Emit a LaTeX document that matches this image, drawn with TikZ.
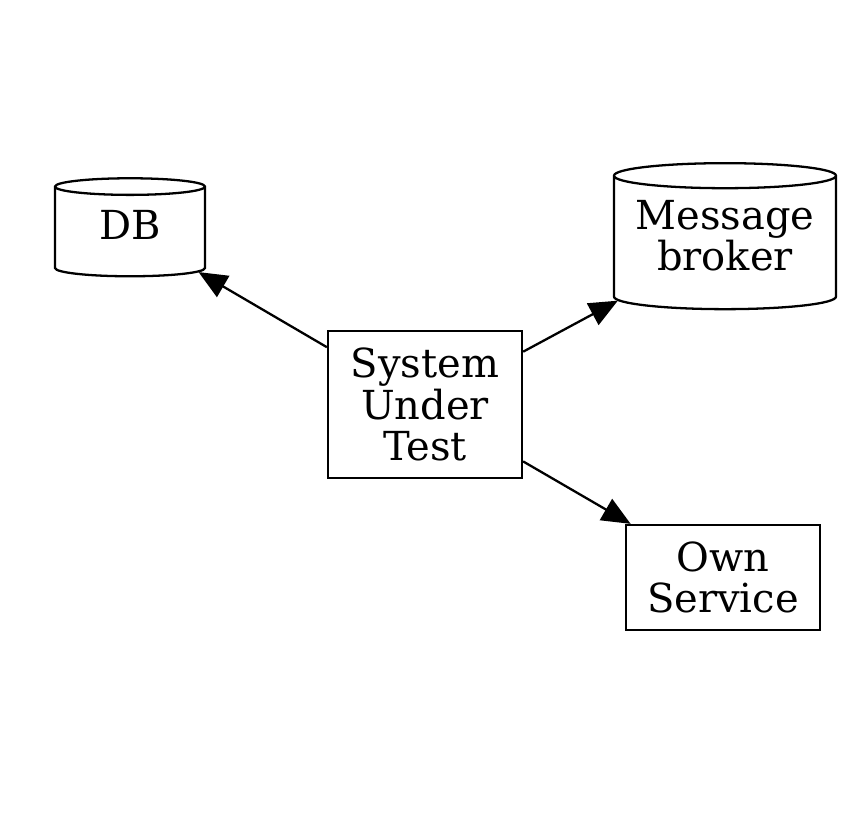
\documentclass[tikz,border=0pt]{standalone}
\usepackage{fontspec}
\setmainfont{DejaVu Serif}
\usetikzlibrary{shapes.geometric,arrows.meta}

% raise a line of text inside a cylinder
\newcommand{\lift}[1]{\raisebox{2.6pt}[\height][\depth]{#1}}

\tikzset{
    box/.style={draw, thick, rectangle, inner sep=0pt, align=center,
        font=\fontsize{14}{14.6}\selectfont},
    store/.style={draw, thick, cylinder, shape border rotate=90, inner sep=0pt,
        align=center, font=\fontsize{14}{14.6}\selectfont},
    link/.style={thick, -{Triangle[length=10pt, width=8.5pt]}}
}

\begin{document}
\begin{tikzpicture}[x=0.35pt, y=-0.35pt]

    % Page frame
    \useasboundingbox (0,0) rectangle (848,813);

    % Central node
    \node[box, minimum width=194*0.35pt, minimum height=147*0.35pt] (sut) at (425,404.5)
        {System\\Under\\Test};

    % Stores
    \node[store, aspect=0.27, minimum width=150*0.35pt, minimum height=98*0.35pt] (db) at (130,232)
        {\lift{DB}};
    \node[store, aspect=0.14, minimum width=222*0.35pt, minimum height=146*0.35pt] (broker) at (725,243)
        {\lift{Message}\\\lift{broker}};

    % Service
    \node[box, minimum width=194*0.35pt, minimum height=105*0.35pt] (own) at (723,577.5)
        {Own\\Service};

    % Edges
    \draw[link] (sut) -- (db);
    \draw[link] (sut) -- (broker);
    \draw[link] (sut) -- (own);

\end{tikzpicture}
\end{document}
